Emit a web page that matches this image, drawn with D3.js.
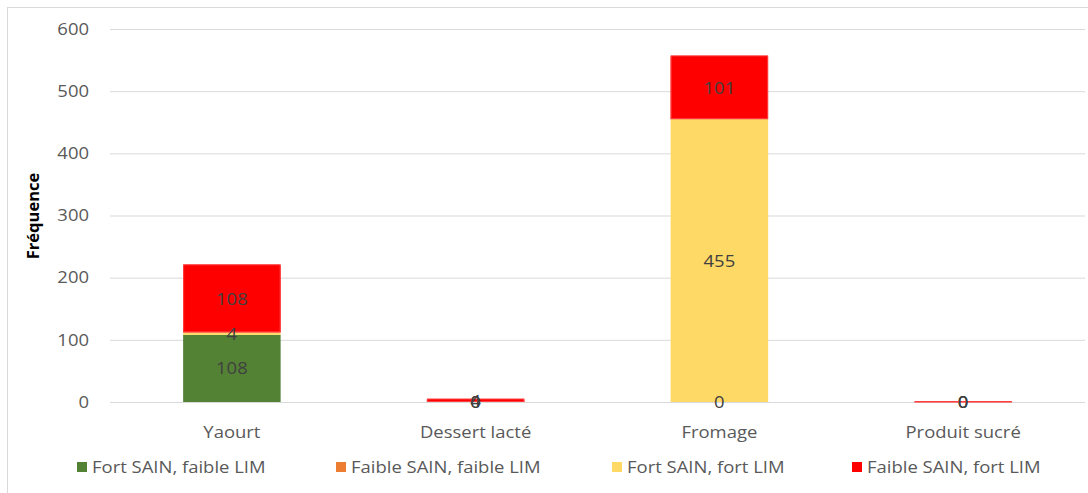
<!DOCTYPE html>
<html><head><meta charset="utf-8">
<script src="https://cdn.jsdelivr.net/npm/d3@7"></script>
<style>body{margin:0;background:#fff;} text{font-family:"Open Sans", sans-serif;}</style>
</head><body>
<svg id="c" width="1088" height="493"></svg>
<script>
const categories = ["Yaourt", "Dessert lacté", "Fromage", "Produit sucré"];
const seriesNames = ["Fort SAIN, faible LIM", "Faible SAIN, faible LIM", "Fort SAIN, fort LIM", "Faible SAIN, fort LIM"];
const seriesColors = ["#548235", "#ED7D31", "#FFD966", "#FF0000"];
const fortSainFaibleLim = [108, 0, 0, 0];
const faibleSainFaibleLim = [null, null, null, null];
const fortSainFortLim = [4, 0, 455, 0];
const faibleSainFortLim = [108, 4, 101, 0];
const yTicks = [0, 100, 200, 300, 400, 500, 600];
const seriesValues = [fortSainFaibleLim, faibleSainFaibleLim, fortSainFortLim, faibleSainFortLim];

const FS = 16.5;
const SX = 1.12;
const svg = d3.select("#c");
svg.append("rect").attr("x",7.5).attr("y",7.5).attr("width",1090).attr("height",500)
  .attr("fill","#fff").attr("stroke","#D9D9D9");

const m = {l:110, r:1085, t:29, b:402};
const x = d3.scaleBand().domain(categories).range([m.l, m.r]).paddingInner(0.6).paddingOuter(0.3);
const y = d3.scaleLinear().domain([0,600]).range([m.b, m.t]);

// gridlines
svg.append("g").selectAll("line").data(yTicks).join("line")
  .attr("x1", m.l).attr("x2", m.r).attr("y1", d=>y(d)+0.5).attr("y2", d=>y(d)+0.5)
  .attr("stroke", "#D9D9D9").attr("stroke-width", 1);

// y axis labels
const yAxis = d3.axisLeft(y).tickValues(yTicks).tickSize(0).tickPadding(0);
const gy = svg.append("g").attr("transform", `translate(89,0)`).call(yAxis);
gy.select(".domain").remove();
gy.selectAll("text").attr("x", 0).attr("font-size", FS).attr("fill", "#595959")
  .attr("transform", `scale(${SX},1)`).style("font-family","'Open Sans', sans-serif");

// x axis labels
const xAxis = d3.axisBottom(x).tickSize(0).tickPadding(0);
const gx = svg.append("g").attr("transform", `translate(0,${m.b+24})`).call(xAxis);
gx.select(".domain").remove();
gx.selectAll("text").attr("x", 0).attr("font-size", FS).attr("fill", "#595959")
  .attr("transform", `scale(${SX},1)`).style("font-family","'Open Sans', sans-serif");

// stack
const rows = categories.map((c,i)=>{
  const o = {cat:c};
  seriesNames.forEach((s,j)=>{ o[s] = seriesValues[j][i] || 0; });
  return o;
});
const stack = d3.stack().keys(seriesNames)(rows);

stack.forEach((layer, j)=>{
  const g = svg.append("g");
  layer.forEach((d, i)=>{
    const v = seriesValues[j][i];
    const y0 = y(d[0]), y1 = y(d[1]);
    if (v !== null && v > 0) {
      g.append("rect").attr("x", x(categories[i])).attr("width", x.bandwidth())
        .attr("y", y1).attr("height", y0 - y1).attr("fill", seriesColors[j]);
    }
    if (j === 3 && v !== null) {
      g.append("rect").attr("x", x(categories[i])+0.5).attr("width", x.bandwidth()-1)
        .attr("y", y1-0.5).attr("height", Math.max(y0-y1, 0.6))
        .attr("fill", v > 0 ? seriesColors[j] : "none")
        .attr("stroke", "#FF4040").attr("stroke-width", 1);
    }
  });
});

// labels
stack.forEach((layer, j)=>{
  layer.forEach((d, i)=>{
    const v = seriesValues[j][i];
    if (v === null) return;
    const cx = x(categories[i]) + x.bandwidth()/2;
    const cy = (y(d[0]) + y(d[1]))/2;
    svg.append("text").attr("transform", `translate(${cx},${cy}) scale(${SX},1)`)
      .attr("dy", "0.36em")
      .attr("text-anchor", "middle").attr("font-size", FS).attr("fill", "#404040")
      .text(v);
  });
});

// y title
svg.append("text").attr("transform", "translate(33,216) rotate(-90)")
  .attr("text-anchor","middle").attr("dy","0.36em").attr("font-size", 16.5).attr("font-weight","bold").attr("fill","#000")
  .text("Fréquence");

// legend
const legX = [77, 336, 612, 852];
const lg = svg.append("g");
seriesNames.forEach((s,j)=>{
  lg.append("rect").attr("x", legX[j]).attr("y", 462).attr("width", 10).attr("height", 10).attr("fill", seriesColors[j]);
  lg.append("text").attr("transform", `translate(${legX[j]+15},467) scale(${SX},1)`).attr("dy","0.36em")
    .attr("font-size", FS).attr("fill","#595959").text(s);
});
</script>
</body></html>
